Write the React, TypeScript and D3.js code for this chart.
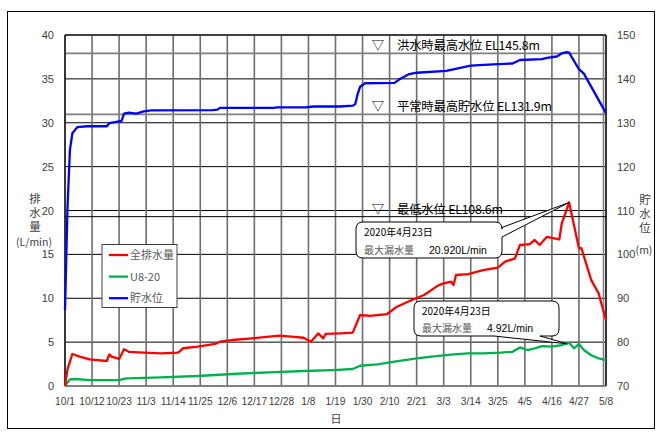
import React from 'react';
import * as d3 from 'd3';

const W = 657;
const H = 432;

// x-axis tick dates (every 11 days) and their labels
const xTickDates = [
  '2019-10-01', '2019-10-12', '2019-10-23', '2019-11-03', '2019-11-14', '2019-11-25',
  '2019-12-06', '2019-12-17', '2019-12-28', '2020-01-08', '2020-01-19', '2020-01-30',
  '2020-02-10', '2020-02-21', '2020-03-03', '2020-03-14', '2020-03-25', '2020-04-05',
  '2020-04-16', '2020-04-27', '2020-05-08',
];
const xTickLabels = [
  '10/1', '10/12', '10/23', '11/3', '11/14', '11/25', '12/6', '12/17', '12/28', '1/8',
  '1/19', '1/30', '2/10', '2/21', '3/3', '3/14', '3/25', '4/5', '4/16', '4/27', '5/8',
];
const leftTicks = [0, 5, 10, 15, 20, 25, 30, 35, 40];
const rightTicks = [70, 80, 90, 100, 110, 120, 130, 140, 150];

// 全排水量 (L/min)
const totalDrainage: [string, number][] = [
  ['2019-10-01', 0], ['2019-10-02', 1.9], ['2019-10-04', 3.65], ['2019-10-07', 3.34],
  ['2019-10-11', 3.04], ['2019-10-18', 2.85], ['2019-10-19', 3.6], ['2019-10-20', 3.34],
  ['2019-10-23', 3.08], ['2019-10-25', 4.18], ['2019-10-27', 3.9], ['2019-11-02', 3.8],
  ['2019-11-09', 3.72], ['2019-11-16', 3.8], ['2019-11-18', 4.3], ['2019-11-24', 4.48],
  ['2019-12-01', 4.79], ['2019-12-03', 5.05], ['2019-12-08', 5.24], ['2019-12-16', 5.43],
  ['2019-12-23', 5.62], ['2019-12-27', 5.74], ['2020-01-01', 5.62], ['2020-01-06', 5.5],
  ['2020-01-09', 5.05], ['2020-01-12', 6.0], ['2020-01-14', 5.43], ['2020-01-15', 5.93],
  ['2020-01-21', 6.0], ['2020-01-26', 6.08], ['2020-01-29', 8.09], ['2020-02-02', 8.0],
  ['2020-02-09', 8.2], ['2020-02-13', 9.04], ['2020-02-19', 9.8], ['2020-02-24', 10.37],
  ['2020-02-28', 11.13], ['2020-03-01', 11.5], ['2020-03-03', 11.7], ['2020-03-06', 11.9],
  ['2020-03-07', 11.5], ['2020-03-08', 12.65], ['2020-03-13', 12.76], ['2020-03-19', 13.2],
  ['2020-03-25', 13.5], ['2020-03-28', 14.17], ['2020-04-01', 14.55], ['2020-04-03', 16.07],
  ['2020-04-07', 16.18], ['2020-04-09', 16.64], ['2020-04-11', 16.07], ['2020-04-14', 17.0],
  ['2020-04-19', 16.7], ['2020-04-20', 18.5], ['2020-04-23', 20.92], ['2020-04-27', 15.7],
  ['2020-04-28', 15.7], ['2020-05-02', 12.07], ['2020-05-05', 10.55], ['2020-05-08', 7.5],
];

// U8-20 (L/min)
const u820: [string, number][] = [
  ['2019-10-01', 0], ['2019-10-03', 0.76], ['2019-10-05', 0.8], ['2019-10-11', 0.68],
  ['2019-10-23', 0.68], ['2019-10-26', 0.87], ['2019-11-09', 0.99], ['2019-11-24', 1.14],
  ['2019-12-08', 1.37], ['2019-12-23', 1.56], ['2020-01-06', 1.71], ['2020-01-18', 1.82],
  ['2020-01-26', 1.94], ['2020-01-29', 2.31], ['2020-02-05', 2.47], ['2020-02-12', 2.77],
  ['2020-02-21', 3.15], ['2020-02-27', 3.34], ['2020-03-07', 3.6], ['2020-03-13', 3.72],
  ['2020-03-19', 3.72], ['2020-03-26', 3.8], ['2020-03-31', 3.9], ['2020-04-03', 4.4],
  ['2020-04-06', 4.1], ['2020-04-09', 4.29], ['2020-04-12', 4.55], ['2020-04-16', 4.48],
  ['2020-04-20', 4.67], ['2020-04-23', 4.92], ['2020-04-25', 4.3], ['2020-04-27', 4.8],
  ['2020-04-29', 4.1], ['2020-05-02', 3.5], ['2020-05-05', 3.15], ['2020-05-08', 2.96],
];

// 貯水位 (EL m)
const reservoirLevel: [string, number][] = [
  ['2019-10-01', 87.3], ['2019-10-02', 110.5], ['2019-10-03', 123.8], ['2019-10-04', 127.6],
  ['2019-10-06', 129.0], ['2019-10-10', 129.2], ['2019-10-18', 129.2], ['2019-10-19', 129.9],
  ['2019-10-24', 130.4], ['2019-10-25', 132.1], ['2019-10-27', 132.3], ['2019-10-30', 132.1],
  ['2019-11-02', 132.6], ['2019-11-05', 132.8], ['2019-11-30', 132.9], ['2019-12-02', 133.0],
  ['2019-12-03', 133.4], ['2019-12-25', 133.4], ['2019-12-26', 133.5], ['2020-01-07', 133.5],
  ['2020-01-10', 133.7], ['2020-01-21', 133.7], ['2020-01-26', 133.9], ['2020-01-27', 134.2],
  ['2020-01-28', 136.5], ['2020-01-29', 138.2], ['2020-01-31', 139.0], ['2020-02-12', 139.1],
  ['2020-02-14', 139.9], ['2020-02-18', 141.1], ['2020-02-21', 141.4], ['2020-03-04', 141.8],
  ['2020-03-14', 143.0], ['2020-03-23', 143.3], ['2020-03-31', 143.5], ['2020-04-03', 144.3],
  ['2020-04-12', 144.5], ['2020-04-14', 144.8], ['2020-04-18', 145.1], ['2020-04-20', 145.8],
  ['2020-04-22', 146.1], ['2020-04-23', 146.0], ['2020-04-27', 142.2], ['2020-04-29', 141.2],
  ['2020-05-08', 132.2],
];

// reference water levels (EL m)
const levelNames = ['洪水時最高水位', '平常時最高貯水位', '最低水位'];
const levelValues = [145.8, 131.9, 108.6];

// peak-value callouts
const peakDate = '2020-04-23';
const peakTotal = 20.92;
const peakU820 = 4.92;

const seriesNames = ['全排水量', 'U8-20', '貯水位'];
const seriesColors = ['#ff0000', '#00b050', '#0000ff'];

const parse = d3.utcParse('%Y-%m-%d');
const JP = '"Noto Sans CJK JP", "Noto Sans", sans-serif';
const NUM = '"Liberation Sans", Arial, sans-serif';

export default function App() {
  const left = 65, right = 606, top = 35, bottom = 386;
  const x = d3.scaleUtc()
    .domain([parse('2019-10-01')!, parse('2020-05-08')!])
    .range([left, right]);
  const yL = d3.scaleLinear().domain([0, 40]).range([bottom, top]);
  const yR = d3.scaleLinear().domain([70, 150]).range([bottom, top]);

  const lineL = d3.line<[string, number]>()
    .x(d => x(parse(d[0])!))
    .y(d => yL(d[1]));
  const lineR = d3.line<[string, number]>()
    .x(d => x(parse(d[0])!))
    .y(d => yR(d[1]));

  const px = x(parse(peakDate)!);
  const pyTotal = yL(peakTotal);
  const pyU = yL(peakU820);

  // callout 1: rounded box with a wedge from its right edge
  const c1 = { x0: 356, y0: 222, x1: 502, y1: 258, r: 7 };
  const c1Path = [
    `M${c1.x0 + c1.r},${c1.y0}`,
    `L${c1.x1 - c1.r},${c1.y0}`,
    `Q${c1.x1},${c1.y0} ${c1.x1},${c1.y0 + c1.r}`,
    `L${c1.x1},${c1.y0 + 5.5}`,
    `L${px},${pyTotal}`,
    `L${c1.x1},${c1.y0 + 15}`,
    `L${c1.x1},${c1.y1 - c1.r}`,
    `Q${c1.x1},${c1.y1} ${c1.x1 - c1.r},${c1.y1}`,
    `L${c1.x0 + c1.r},${c1.y1}`,
    `Q${c1.x0},${c1.y1} ${c1.x0},${c1.y1 - c1.r}`,
    `L${c1.x0},${c1.y0 + c1.r}`,
    `Q${c1.x0},${c1.y0} ${c1.x0 + c1.r},${c1.y0}`,
    'Z',
  ].join(' ');

  // callout 2: rounded box with a wedge from its bottom edge
  const c2 = { x0: 414, y0: 301, x1: 559, y1: 336, r: 7 };
  const c2Path = [
    `M${c2.x0 + c2.r},${c2.y0}`,
    `L${c2.x1 - c2.r},${c2.y0}`,
    `Q${c2.x1},${c2.y0} ${c2.x1},${c2.y0 + c2.r}`,
    `L${c2.x1},${c2.y1 - c2.r}`,
    `Q${c2.x1},${c2.y1} ${c2.x1 - c2.r},${c2.y1}`,
    `L${540},${c2.y1}`,
    `L${px - 2},${pyU + 1}`,
    `L${494},${c2.y1}`,
    `L${c2.x0 + c2.r},${c2.y1}`,
    `Q${c2.x0},${c2.y1} ${c2.x0},${c2.y1 - c2.r}`,
    `L${c2.x0},${c2.y0 + c2.r}`,
    `Q${c2.x0},${c2.y0} ${c2.x0 + c2.r},${c2.y0}`,
    'Z',
  ].join(' ');

  const levelTextLen = [143, 155, 106];

  return (
    <svg width={W} height={H} style={{ position: 'absolute', left: 0, top: 0, background: '#fff' }}>
      <rect x={0} y={0} width={W} height={H} fill="#fff" />
      {/* chart frame */}
      <rect x={7.5} y={11.5} width={647} height={417} fill="none" stroke="#000" strokeWidth={1} />

      {/* horizontal grid */}
      {leftTicks.map(t => (
        <line key={'h' + t} x1={left} x2={right} y1={yL(t)} y2={yL(t)} stroke="#000" strokeWidth={1} />
      ))}
      {/* vertical grid */}
      {xTickDates.map(d => (
        <line key={'v' + d} x1={x(parse(d)!)} x2={x(parse(d)!)} y1={top} y2={bottom}
          stroke="#6e6e6e" strokeWidth={1.6} />
      ))}
      <line x1={right - 2.5} x2={right - 2.5} y1={top} y2={bottom} stroke="#7f7f7f" strokeWidth={1.6} />

      {/* reference levels */}
      {levelValues.map((v, i) => (
        <line key={'lv' + i} x1={left} x2={right} y1={yR(v)} y2={yR(v)}
          stroke={i < 2 ? '#7f7f7f' : '#000'} strokeWidth={i < 2 ? 1.8 : 1} />
      ))}

      {/* plot border */}
      <line x1={left} x2={right} y1={top} y2={top} stroke="#000" strokeWidth={1.2} />
      <line x1={left} x2={left} y1={top} y2={bottom} stroke="#000" strokeWidth={1.2} />
      <line x1={right} x2={right} y1={top} y2={bottom} stroke="#000" strokeWidth={1.2} />
      <line x1={left} x2={right} y1={bottom} y2={bottom} stroke="#808080" strokeWidth={1.6} />

      {/* level labels */}
      {levelValues.map((v, i) => (
        <g key={'lt' + i} fontFamily={JP} fontSize={12.4} fill="#000">
          <text x={378} y={yR(v) - 3} textAnchor="middle">▽</text>
          <text x={397} y={yR(v) - 3} textLength={levelTextLen[i]} lengthAdjust="spacing">
            {`${levelNames[i]} EL${v.toFixed(1)}m`}
          </text>
        </g>
      ))}

      {/* series */}
      <path d={lineL(u820) || ''} fill="none" stroke={seriesColors[1]} strokeWidth={2.3} strokeLinejoin="round" />
      <path d={lineL(totalDrainage) || ''} fill="none" stroke={seriesColors[0]} strokeWidth={2.3} strokeLinejoin="round" />
      <path d={lineR(reservoirLevel) || ''} fill="none" stroke={seriesColors[2]} strokeWidth={2.3} strokeLinejoin="round" />

      {/* left axis */}
      {leftTicks.map(t => (
        <text key={'lt' + t} x={54} y={yL(t) + 4} textAnchor="end" fontFamily={NUM} fontSize={11} fill="#404040">{t}</text>
      ))}
      {/* right axis */}
      {rightTicks.map(t => (
        <text key={'rt' + t} x={617} y={yR(t) + 4} fontFamily={NUM} fontSize={11} fill="#404040">{t}</text>
      ))}
      {/* x axis */}
      {xTickDates.map((d, i) => (
        <text key={'xt' + d} x={x(parse(d)!)} y={405} textAnchor="middle" fontFamily={NUM} fontSize={10.2} fill="#404040">
          {xTickLabels[i]}
        </text>
      ))}
      <text x={336} y={423} textAnchor="middle" fontFamily={JP} fontSize={11} fill="#404040">日</text>

      {/* axis titles, set vertically */}
      <g fontFamily={JP} fontSize={11.5} fill="#404040">
        <text x={35} y={193} style={{ writingMode: 'vertical-rl' }} letterSpacing={2.3}>排水量</text>
        <text x={34} y={245.5} fontSize={10.5} textAnchor="middle">(L/min)</text>
        <text x={645} y={194} style={{ writingMode: 'vertical-rl' }} letterSpacing={2.3}>貯水位</text>
        <text x={644} y={254} fontSize={10.5} textAnchor="middle">(m)</text>
      </g>

      {/* legend */}
      <rect x={102} y={244.5} width={75} height={63} fill="#fff" stroke="#404040" strokeWidth={1} />
      {seriesNames.map((n, i) => (
        <g key={'lg' + i}>
          <line x1={109} x2={128} y1={255 + i * 21.6} y2={255 + i * 21.6} stroke={seriesColors[i]} strokeWidth={2.3} />
          <text x={130} y={259 + i * 21.6} fontFamily={JP} fontSize={11} fill="#595959">{n}</text>
        </g>
      ))}

      {/* callouts */}
      <path d={c1Path} fill="#fff" stroke="#000" strokeWidth={1} />
      <text x={364} y={236} fontFamily={JP} fontSize={10} fill="#000">2020年4月23日</text>
      <text x={364} y={254} fontFamily={JP} fontSize={10} fill="#595959">最大漏水量</text>
      <text x={429} y={254} fontFamily={NUM} fontSize={10.5} fill="#000">{peakTotal.toFixed(3)}L/min</text>

      <path d={c2Path} fill="#fff" stroke="#000" strokeWidth={1} />
      <text x={422} y={315} fontFamily={JP} fontSize={10} fill="#000">2020年4月23日</text>
      <text x={422} y={332} fontFamily={JP} fontSize={10} fill="#595959">最大漏水量</text>
      <text x={487} y={332} fontFamily={NUM} fontSize={10.5} fill="#000">{peakU820.toFixed(2)}L/min</text>
    </svg>
  );
}
